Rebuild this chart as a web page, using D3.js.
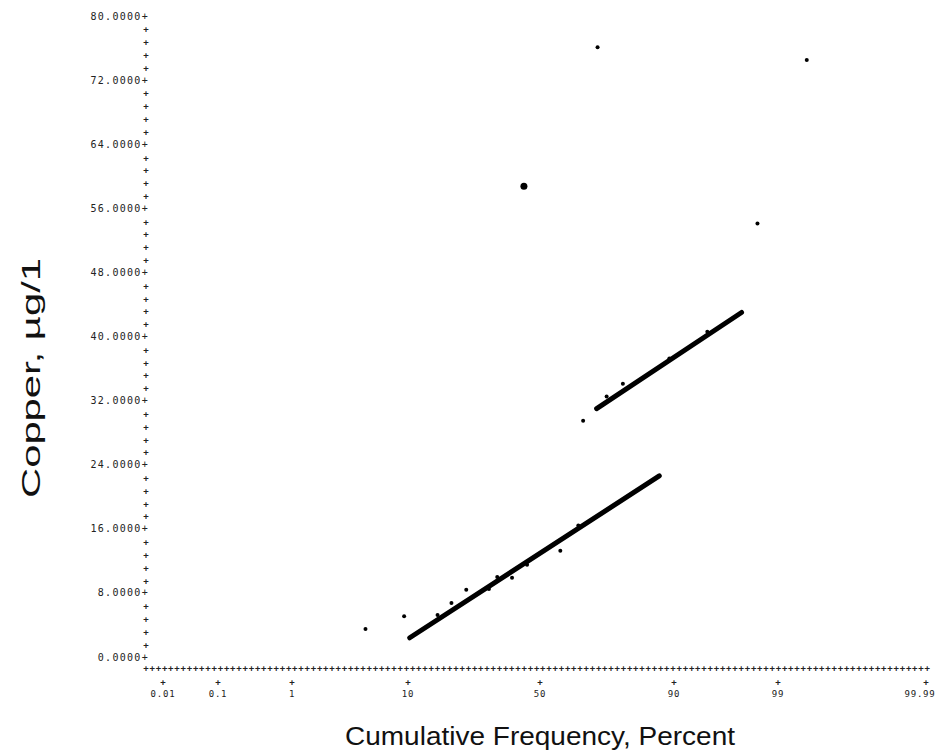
<!DOCTYPE html>
<html>
<head>
<meta charset="utf-8">
<script src="https://cdn.jsdelivr.net/npm/d3@7"></script>
<style>
  html, body { margin: 0; padding: 0; background: #fff; }
  svg { display: block; }
</style>
</head>
<body>
<svg id="chart" width="952" height="753"></svg>
<script>
// ---------------- data ----------------
const yTickValues = [0, 8, 16, 24, 32, 40, 48, 56, 64, 72, 80];
const xTickPercents = [0.01, 0.1, 1, 10, 50, 90, 99, 99.99];
const xTickLabels = ["0.01", "0.1", "1", "10", "50", "90", "99", "99.99"];

const pointPercents = [4.8, 9.4, 16, 19.5, 23.7, 31, 33.9, 39.3, 45, 57.7, 64.3, 66, 73.8, 78.6, 89.2, 94.7, 99.53, 70.9, 98.3];
const pointValues   = [3.5, 5.1, 5.25, 6.75, 8.4, 8.5, 10, 9.9, 11.5, 13.25, 16.4, 29.5, 32.5, 34.1, 37.25, 40.6, 74.5, 76.1, 54.1];

const outlierPercents = [43.8];
const outlierValues = [58.75];

const fitLowPercents = [10.3, 87.3];
const fitLowValues = [2.4, 22.6];
const fitHighPercents = [70.6, 97.5];
const fitHighValues = [31, 43];

// ---------------- helpers ----------------
// inverse standard normal CDF (Acklam)
function probit(p) {
  const a = [-3.969683028665376e+01, 2.209460984245205e+02, -2.759285104469687e+02, 1.383577518672690e+02, -3.066479806614716e+01, 2.506628277459239e+00];
  const b = [-5.447609879822406e+01, 1.615858368580409e+02, -1.556989798598866e+02, 6.680131188771972e+01, -1.328068155288572e+01];
  const c = [-7.784894002430293e-03, -3.223964580411365e-01, -2.400758277161838e+00, -2.549732539343734e+00, 4.374664141464968e+00, 2.938163982698783e+00];
  const d = [7.784695709041462e-03, 3.224671290700398e-01, 2.445134137142996e+00, 3.754408661907416e+00];
  const plow = 0.02425, phigh = 1 - plow;
  let q, r;
  if (p < plow) {
    q = Math.sqrt(-2 * Math.log(p));
    return (((((c[0]*q+c[1])*q+c[2])*q+c[3])*q+c[4])*q+c[5]) / ((((d[0]*q+d[1])*q+d[2])*q+d[3])*q+1);
  } else if (p <= phigh) {
    q = p - 0.5; r = q*q;
    return (((((a[0]*r+a[1])*r+a[2])*r+a[3])*r+a[4])*r+a[5])*q / (((((b[0]*r+b[1])*r+b[2])*r+b[3])*r+b[4])*r+1);
  } else {
    q = Math.sqrt(-2 * Math.log(1 - p));
    return -(((((c[0]*q+c[1])*q+c[2])*q+c[3])*q+c[4])*q+c[5]) / ((((d[0]*q+d[1])*q+d[2])*q+d[3])*q+1);
  }
}

const svg = d3.select("#chart");

// probability (normal-quantile) axis, as printed on the original plot
const zScale = d3.scaleLinear()
  .domain(xTickPercents.map(p => probit(p / 100)))
  .range([163, 218, 292, 408, 540, 674, 778, 926]);
const x = pct => zScale(probit(pct / 100));
const y = d3.scaleLinear().domain([0, 80]).range([657, 16]);

const monoFont = "'DejaVu Sans Mono', 'Liberation Mono', monospace";
const axisColor = "#222";

// ---------------- Y axis (printer style) ----------------
const yAxisX = 146;
const gy = svg.append("g");
const minor = d3.range(0, 80.01, 1.6).filter(v => Math.abs(v / 8 - Math.round(v / 8)) > 1e-6);
gy.selectAll("text.minor").data(minor).enter().append("text")
  .attr("x", yAxisX).attr("y", d => y(d) + 3.5)
  .attr("text-anchor", "middle")
  .attr("font-family", monoFont).attr("font-size", 9).attr("font-weight", "bold")
  .attr("fill", axisColor)
  .text("+");
gy.selectAll("text.major").data(yTickValues).enter().append("text")
  .attr("x", yAxisX + 3).attr("y", d => y(d) + 3.5)
  .attr("text-anchor", "end")
  .attr("font-family", monoFont).attr("font-size", 10)
  .attr("letter-spacing", 1.3)
  .attr("fill", axisColor)
  .text(d => d.toFixed(4) + "+");

// ---------------- X axis (printer style) ----------------
const xAxisY = 667;
const gx = svg.append("g");
const rowMarks = d3.range(146, 932, 6.2);
gx.selectAll("text.row").data(rowMarks).enter().append("text")
  .attr("x", d => d).attr("y", xAxisY + 3.5)
  .attr("text-anchor", "middle")
  .attr("font-family", monoFont).attr("font-size", 9).attr("font-weight", "bold")
  .attr("fill", axisColor)
  .text("+");
gx.selectAll("text.tick").data(xTickPercents).enter().append("text")
  .attr("x", d => x(d)).attr("y", 685)
  .attr("text-anchor", "middle")
  .attr("font-family", monoFont).attr("font-size", 9).attr("font-weight", "bold")
  .attr("fill", axisColor)
  .text("+");
gx.selectAll("text.lab").data(xTickPercents).enter().append("text")
  .attr("x", (d, i) => x(d) - (i === xTickPercents.length - 1 ? 6 : 0)).attr("y", 697)
  .attr("text-anchor", "middle")
  .attr("font-family", monoFont).attr("font-size", 9)
  .attr("letter-spacing", 0.8)
  .attr("fill", axisColor)
  .text((d, i) => xTickLabels[i]);

// ---------------- Fit lines ----------------
const line = d3.line().x(d => x(d[0])).y(d => y(d[1]));
[[fitLowPercents, fitLowValues], [fitHighPercents, fitHighValues]].forEach(([ps, vs]) => {
  svg.append("path")
    .datum(ps.map((p, i) => [p, vs[i]]))
    .attr("d", line)
    .attr("fill", "none")
    .attr("stroke", "#000")
    .attr("stroke-width", 5)
    .attr("stroke-linecap", "round");
});

// ---------------- Points ----------------
svg.append("g").selectAll("circle").data(pointPercents.map((p, i) => [p, pointValues[i]]))
  .enter().append("circle")
  .attr("cx", d => x(d[0])).attr("cy", d => y(d[1]))
  .attr("r", 2)
  .attr("fill", "#000");
svg.append("g").selectAll("circle").data(outlierPercents.map((p, i) => [p, outlierValues[i]]))
  .enter().append("circle")
  .attr("cx", d => x(d[0])).attr("cy", d => y(d[1]))
  .attr("r", 3.5)
  .attr("fill", "#000");

// ---------------- Titles ----------------
svg.append("text")
  .attr("x", 540).attr("y", 745)
  .attr("text-anchor", "middle")
  .attr("font-family", "'Liberation Sans', Arial, sans-serif")
  .attr("font-size", 26)
  .attr("textLength", 390)
  .attr("lengthAdjust", "spacingAndGlyphs")
  .attr("fill", "#111")
  .text("Cumulative Frequency, Percent");

svg.append("text")
  .attr("transform", "translate(40,378) rotate(-90)")
  .attr("text-anchor", "middle")
  .attr("font-family", "'Liberation Sans', Arial, sans-serif")
  .attr("font-size", 26)
  .attr("textLength", 240)
  .attr("lengthAdjust", "spacingAndGlyphs")
  .attr("fill", "#111")
  .text("Copper, µg/1");
</script>
</body>
</html>
